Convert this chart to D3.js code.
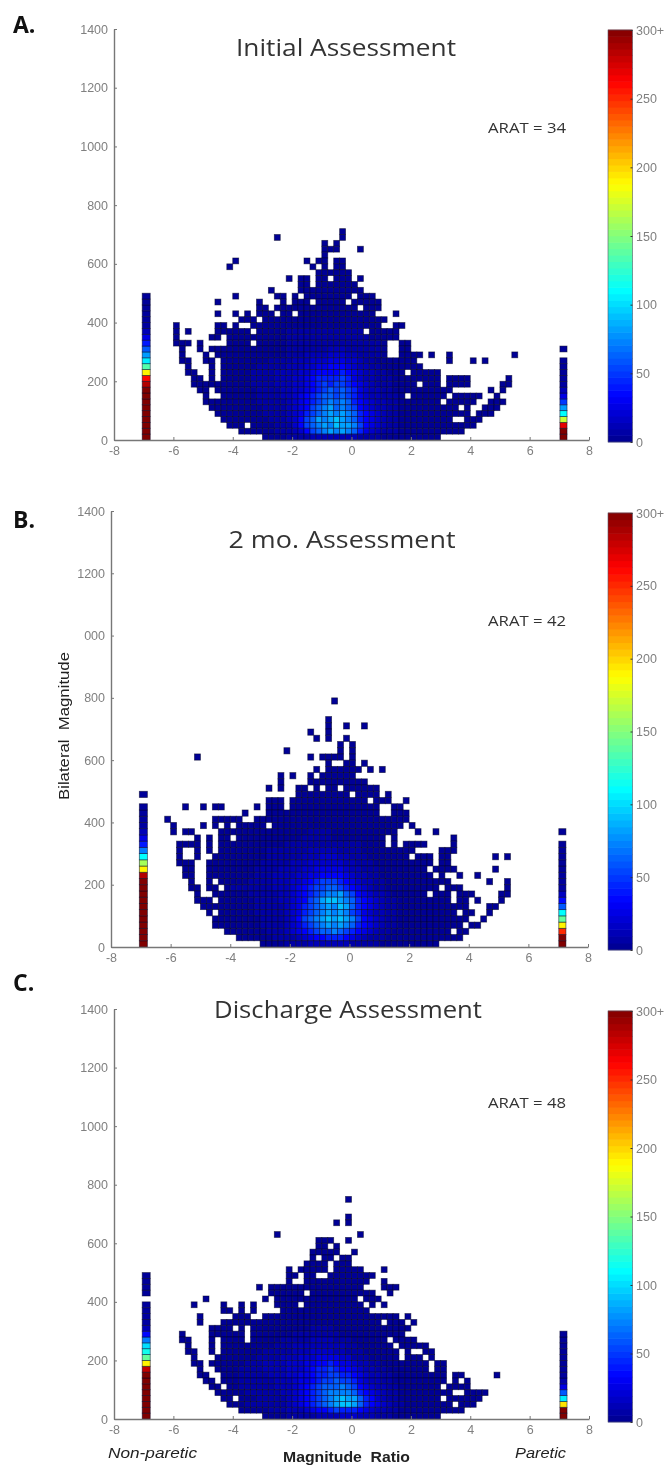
<!DOCTYPE html>
<html>
<head>
<meta charset="utf-8">
<script src="https://cdn.jsdelivr.net/npm/d3@7"></script>
<style>
  html, body { margin: 0; padding: 0; background: #fff; }
  svg { display: block; filter: blur(0.5px); }
  .tick text { font-family: "Liberation Sans", Arial, sans-serif; font-size: 12.5px; fill: #808080; }
  .title { font-family: "Open Sans", sans-serif; fill: #333; font-size: 23.5px; text-anchor: middle; }
  .letter { font-family: "Open Sans", sans-serif; font-weight: 700; font-size: 23px; fill: #111; }
  .arat { font-family: "Open Sans", sans-serif; font-size: 14.5px; fill: #333; }
  .note { font-family: "Liberation Sans", Arial, sans-serif; font-size: 14px; fill: #222; white-space: pre; }
</style>
</head>
<body>
<svg width="669" height="1466"></svg>
<script>
// cells per row, top row first, bottom row last. '.' = empty, otherwise a level, see levelValues
// columns start at x = -6.2, 0.2 wide, spaces only group them in tens
const rowsA = [
  ".......... .......... .........0",
  ".......... ........0. .........0",
  ".......... .......... ......0.0.",
  ".......... .......... ......000. ..0",
  ".......... .......... ......0...",
  ".......... .0........ ...0.00.00",
  ".......... 0......... ....0.0.00",
  ".......... .......... .....00000 0",
  ".......... .......... 0.00.00.00 0.0",
  ".......... .......... ..00.00000 00",
  ".......... .......0.. ..00000000 000",
  ".......... .0......00 .0.0000000 0.000",
  "........0. .....0...0 .000.00000 .00000",
  ".......... .....00.00 0000000000 00.000",
  "........0. .0.0.000.0 0.00000000 00000...0.",
  ".......... ..000.0000 0000000000 0000000",
  ".0......00 .0..000000 0000000000 000000..00",
  ".0.0....00 0000.00000 1111111111 111.00000.",
  ".0.....00. 0000000000 1111111111 111100000.",
  ".000.0.... 0000.00000 1111111111 1111110..0 0",
  "..0..0.000 0000000000 1111111222 1111110..0 0",
  "..0...0.00 0000000000 1112222333 2211110..0 000.0..0.. ........0.",
  "..00..00.0 0000000111 1222333444 3321100000 00.....0.. .0.0",
  "...0...0.0 0000011111 2223344555 4322110000 000",
  "...00..0.0 0000111122 2233455556 5432211000 .00000",
  "....00.0.0 0000111122 2334566667 6432211100 000000.000 0......0",
  "....000000 0000111122 2334567677 6543211100 00.000.000 0.....00",
  ".....00.00 0000011112 2334567878 7643221100 00000000.. ....0.0",
  "......0..0 0000011112 2345678878 7643221110 .000000.00 000..0",
  "......0000 0000011111 2345678989 8654322110 000000.000 00..000",
  ".......000 0000001111 2345789a89 8754322110 000000000. 0..000",
  "........00 0000001111 2346789a9a 9865432110 0000000000 0.000",
  ".........0 0000000111 23578a9aba 9865432110 00000000.. 000",
  ".......... 000.000011 135789a9ba a975432110 0000000000 00",
  ".......... ..00000011 1235789a9a 9864321110 0000000000",
  ".......... ......0000 1111222222 2211110000 000000"
];
const rowsB = [
  ".......... .......... ........0.",
  "",
  "",
  ".......... .......... .......0",
  ".......... .......... .......0.. 0..0",
  ".......... .......... ....0..0",
  ".......... .......... .....0.0.. 0",
  ".......... .......... .........0 .0",
  ".......... .......... 0........0 .0",
  ".....0.... .......... ....0.0000 .0",
  ".......... .......... .......0.. 00.0",
  ".......... .......... .....0.000 000.0.0",
  ".......... .........0 .0..0.0000 00",
  ".......... .........0 ....000000 0000",
  ".......... .......0.0 ..00.0.00. 000000",
  ".......... .......... ..00000000 0.0000.0",
  ".......... .......000 .000000000 0000.000.. 0",
  "...0..0.00 .....0.000 .000000000 000000..00",
  ".......... ...0...000 0000000000 000000..00 0",
  "0.......00 000..00000 0000000000 0000000000 0",
  ".0....0.0. 0.00000.00 0000000000 0000000000 .0",
  ".0.00....0 0000000000 0000111100 000000000. ..0..0",
  ".....0.0.0 0.00000000 0001111100 0000000.0. ........0",
  "..0000.0.0 0000000000 1111111111 1110000.0. 0000....0",
  "..0..0.0.0 0000000111 1111222221 1110000000 00....000",
  "..0..0..00 0000000111 1112223332 2111000000 0.000.00.. .....0.0",
  "..000..000 0000001111 1222333333 2211100000 00000.00",
  "...00..000 0000011112 2223344444 3221110000 0000.0000. .....0",
  "...00..000 0000011122 2233445555 4322110000 00000.0..0 ..0",
  "....0..0.0 0000111122 2334567776 5432211000 00000000.. ....0..0",
  "....00.00. 0111111122 2345677887 6543211000 000000.000 .......0",
  ".....0..00 0000111112 234567899a 8754322100 0000.000.0 00....00",
  ".....000.0 0000011112 234578abba 9865432110 00000000.0 0.0...0",
  "......0000 0000011111 2346789a9b a865432110 0000000000 0...00",
  ".......0.0 0000011111 2346789a9a 9764322110 000000000. 00..0",
  "........00 0000001111 235789abab a975432110 0000000000 0..0",
  "........00 0000001111 2346789a9a 9865432110 0000000000 .00",
  ".......... 0000000111 2345678898 7654321100 00000000.0 0",
  ".......... ..00000011 1123455666 5432111000 0000000000",
  ".......... ......0000 1111222222 2111110000 000000"
];
const rowsC = [
  ".......... .......... .......... 0",
  "",
  "",
  ".......... .......... .......... 0",
  ".......... .......... ........0. 0",
  "",
  ".......... ........0. .......... ..0",
  ".......... .......... .....000.. 0",
  ".......... .......... .....00.0",
  ".......... .......... ....00000. .0",
  ".......... .......... ....0.00.0 0",
  ".......... .......... ...0000.00 0",
  ".......... .......... 0.00000.00 000...0",
  ".......... .......... 00.00..000 00000",
  ".......... .......... 0..0000000 0000..0",
  ".......... .....0.000 0000000000 000...000",
  ".......... .......000 000.000000 00000..0",
  "......0... ......0.00 0000000000 00.000",
  "....0....0 ..0.0...00 00.0000000 000.0.0",
  ".........0 0.0.0....0 0000000000 0000",
  ".....0.... .000..0000 0000000000 000000000. 0",
  ".....0...0 0000000000 0000000000 000000.000 .0",
  ".......000 0.0.000000 0000111100 0000000000 0",
  "..0....000 000.000000 0111111110 0000000000",
  "..00...0.0 000.000001 1111222211 1000000.00 00",
  "...0...0.0 0000000011 1222222222 11000000.0 0000",
  "...00..0.0 0000001111 1222333322 111000000. 0..00.",
  "....0...00 0000011112 2233344443 311100000. 000.0",
  "....00.000 0001112222 3334455654 4322110000 0000.00",
  ".....0..00 0011112222 3334566765 5432211000 0000.00",
  ".....00..0 0011111222 3344566776 6543221100 0000000.00 .....0",
  "......00.0 0011111122 2344567787 7643221100 0000000.0. 0",
  ".......00. 0011111122 2345678889 8754322110 000000.000 0",
  "........00 0001111112 2345678999 9865432110 00000000.. 0000",
  ".........0 0.00011111 23456789ab aa86532110 000000.000 000",
  ".......... 0001111111 23456789ab ba86543211 00000000.0 00",
  ".......... ..00000111 2223455676 6654322110 0000000000",
  ".......... ......0000 1111122223 3322211100 000000"
];
// count that each level stands for
const levelValues = [2, 7, 12, 18, 25, 33, 42, 52, 62, 72, 82, 92];
// the two tall side columns, bottom row first, null = gap
const leftA = [300,300,300,300,300,300,300,300,300,285,260,190,135,105,80,60,40,25,12,5,4,4,3,3,3];
const rightA = [300,300,270,170,110,80,50,25,12,5,4,3,3,3,null,3];
const leftB = [300,300,300,300,300,300,300,300,300,300,300,285,190,160,110,70,40,25,12,5,4,4,3,null,3];
const rightB = [300,300,250,190,140,110,60,35,15,6,4,4,3,3,3,3,3,null,3];
const leftC = [300,300,300,300,300,300,300,300,280,190,140,115,100,70,35,12,6,5,4,4,null,3,3,3,3];
const rightC = [300,300,195,105,60,25,8,4,4,3,3,3,3,3,3];

const yTicks = [0, 200, 400, 600, 800, 1000, 1200, 1400];
const xTicks = [-8, -6, -4, -2, 0, 2, 4, 6, 8];
const barTicks = [0, 50, 100, 150, 200, 250, 300];
const jetStops = [0, 33, 110, 187, 262, 300];
const jetColors = ["#00008f", "#0000ff", "#00ffff", "#ffff00", "#ff0000", "#800000"];

const color = d3.scaleLinear().domain(jetStops).range(jetColors).clamp(true);
const svg = d3.select("svg");

const panels = [
  { rows: rowsA, left: leftA, right: rightA, letter: "A.", letterY: 33, title: "Initial Assessment", titleX: 346, titleY: 56, titleW: 220,
    arat: "ARAT = 34", aratX: 488, aratY: 133, x0: 114, x1: 589, yTop: 29, yBase: 440, barTop: 28, barBase: 442, labels: {} },
  { rows: rowsB, left: leftB, right: rightB, letter: "B.", letterY: 528, title: "2 mo. Assessment", titleX: 342, titleY: 548, titleW: 227,
    arat: "ARAT = 42", aratX: 488, aratY: 626, x0: 111, x1: 588, yTop: 511, yBase: 947, barTop: 511, barBase: 950, labels: { 1000: "000" } },
  { rows: rowsC, left: leftC, right: rightC, letter: "C.", letterY: 991, title: "Discharge Assessment", titleX: 348, titleY: 1018, titleW: 268,
    arat: "ARAT = 48", aratX: 488, aratY: 1108, x0: 114, x1: 589, yTop: 1009, yBase: 1419, barTop: 1009, barBase: 1422, labels: {} }
];

panels.forEach(drawPanel);

function drawPanel(p) {
  const x = d3.scaleLinear().domain([-8, 8]).range([p.x0, p.x1]);
  const y = d3.scaleLinear().domain([0, 1400]).range([p.yBase, p.yTop]);
  const g = svg.append("g");

  // turn the row strings into cells
  const cells = [];
  p.rows.forEach((row, j) => {
    const r = p.rows.length - 1 - j;
    row.replace(/ /g, "").split("").forEach((c, i) => {
      if (c !== ".") cells.push({ x: -6.2 + i * 0.2, x2: -6 + i * 0.2, r: r, v: levelValues[parseInt(c, 36)] });
    });
  });
  [[p.left, -7.05, -6.78], [p.right, 7.02, 7.26]].forEach(([col, a, b]) => {
    col.forEach((v, r) => { if (v !== null) cells.push({ x: a, x2: b, r: r, v: v }); });
  });

  g.selectAll("rect.cell").data(cells).join("rect").attr("class", "cell")
    .attr("x", d => x(d.x))
    .attr("width", d => x(d.x2) - x(d.x))
    .attr("y", d => y((d.r + 1) * 20))
    .attr("height", d => y(d.r * 20) - y((d.r + 1) * 20))
    .attr("fill", d => color(d.v))
    .attr("stroke", "#000022")
    .attr("stroke-opacity", 0.6)
    .attr("stroke-width", 0.8);

  // axes, ticks pointing inward like matlab
  const axisY = d3.axisLeft(y).tickValues(yTicks).tickSizeInner(-3).tickSizeOuter(0).tickPadding(6)
    .tickFormat(d => p.labels[d] !== undefined ? p.labels[d] : d);
  const axisX = d3.axisBottom(x).tickValues(xTicks).tickSizeInner(-3).tickSizeOuter(0).tickPadding(6)
    .tickFormat(d => d);
  const gy = g.append("g").attr("transform", `translate(${p.x0},0)`).call(axisY);
  const gx = g.append("g").attr("transform", `translate(0,${p.yBase})`).call(axisX);
  [gy, gx].forEach(a => {
    a.select(".domain").attr("stroke", "#777").attr("stroke-width", 1.4);
    a.selectAll(".tick line").attr("stroke", "#777");
  });

  // colour bar
  const yBar = d3.scaleLinear().domain([0, 300]).range([p.barBase, p.barTop + 2]);
  const steps = d3.range(0, 300, 300 / 64);
  g.selectAll("rect.step").data(steps).join("rect").attr("class", "step")
    .attr("x", 608).attr("width", 24.5)
    .attr("y", d => yBar(d + 300 / 64) - 0.3)
    .attr("height", d => yBar(d) - yBar(d + 300 / 64) + 0.6)
    .attr("fill", d => color(d + 2));
  g.append("rect").attr("x", 608).attr("width", 24.5)
    .attr("y", yBar(300)).attr("height", yBar(0) - yBar(300))
    .attr("fill", "none").attr("stroke", "#556").attr("stroke-width", 0.6);
  const axisBar = d3.axisRight(yBar).tickValues(barTicks).tickSizeInner(-2).tickSizeOuter(0).tickPadding(3.5)
    .tickFormat(d => d === 300 ? "300+" : d);
  const gb = g.append("g").attr("transform", "translate(632.5,0)").call(axisBar);
  gb.select(".domain").remove();
  gb.selectAll(".tick line").attr("stroke", "#333");

  g.append("text").attr("class", "letter").attr("x", 13).attr("y", p.letterY).text(p.letter);
  g.append("text").attr("class", "title").attr("x", p.titleX).attr("y", p.titleY)
    .attr("textLength", p.titleW).attr("lengthAdjust", "spacingAndGlyphs").text(p.title);
  g.append("text").attr("class", "arat").attr("x", p.aratX).attr("y", p.aratY)
    .attr("textLength", 78).attr("lengthAdjust", "spacingAndGlyphs").text(p.arat);
}

svg.append("text").attr("class", "note")
  .attr("transform", "translate(69,800) rotate(-90)")
  .attr("textLength", 148).attr("lengthAdjust", "spacingAndGlyphs").text("Bilateral  Magnitude");
svg.append("text").attr("class", "note").attr("font-style", "italic").attr("x", 108).attr("y", 1458)
  .attr("textLength", 89).attr("lengthAdjust", "spacingAndGlyphs").text("Non-paretic");
svg.append("text").attr("class", "note").attr("font-weight", 700).attr("x", 283).attr("y", 1462)
  .attr("textLength", 127).attr("lengthAdjust", "spacingAndGlyphs").text("Magnitude  Ratio");
svg.append("text").attr("class", "note").attr("font-style", "italic").attr("x", 515).attr("y", 1458)
  .attr("textLength", 51).attr("lengthAdjust", "spacingAndGlyphs").text("Paretic");
</script>
</body>
</html>
